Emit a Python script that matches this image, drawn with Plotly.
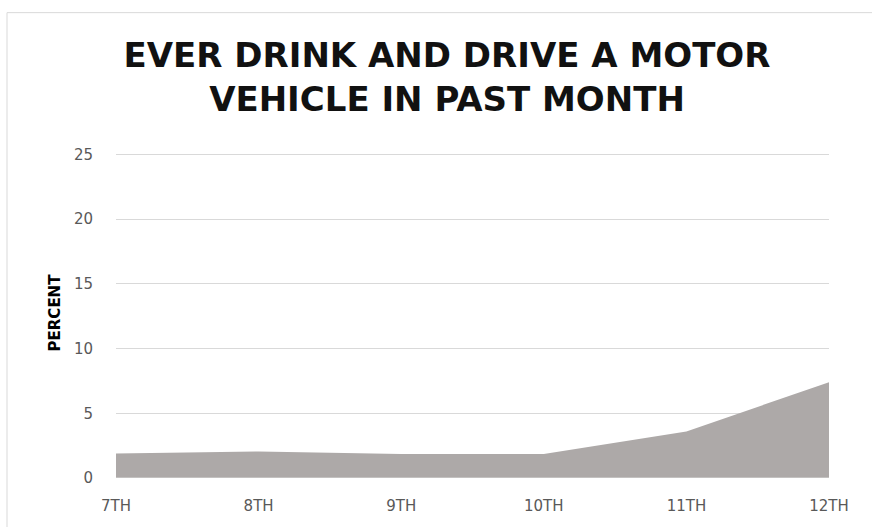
import plotly.graph_objects as go

grades = ["7TH", "8TH", "9TH", "10TH", "11TH", "12TH"]
percent = [1.9, 2.05, 1.85, 1.85, 3.6, 7.4]
y_ticks = [0, 5, 10, 15, 20, 25]

W, H = 872, 527
YMAX = 25.5
L, R, B = 116, 43, 45
ph = 327 / 25 * YMAX
T = round(H - B - ph)
pw, ph = W - L - R, H - T - B

fig = go.Figure()
fig.add_trace(go.Scatter(
    x=list(range(len(grades))), y=percent, mode="lines",
    line=dict(width=0, color="#ada9a8"), fill="tozeroy", fillcolor="#ada9a8",
    hoverinfo="skip", showlegend=False,
))

FONT = "DejaVu Sans"
fig.update_layout(
    width=W, height=H,
    margin=dict(l=L, r=R, t=T, b=B),
    paper_bgcolor="white", plot_bgcolor="white",
    font=dict(family=FONT, color="#595959"),
    title=dict(
        text="EVER DRINK AND DRIVE A MOTOR<br>VEHICLE IN PAST MONTH",
        x=447 / W, xref="container", xanchor="center",
        y=1 - 67 / H, yanchor="top",
        font=dict(family=FONT, size=34, color="#111111", weight="bold"),
    ),
    xaxis=dict(
        range=[0, 5], tickmode="array", tickvals=list(range(len(grades))),
        ticktext=grades, showgrid=False, zeroline=False, showline=False,
        tickfont=dict(size=15, color="#595959"), ticklabelstandoff=17,
        fixedrange=True,
    ),
    yaxis=dict(
        range=[0, YMAX], tickmode="array", tickvals=y_ticks,
        showgrid=True, gridcolor="#d9d9d9", gridwidth=1, zeroline=False,
        showline=False, tickfont=dict(size=15, color="#595959"),
        ticklabelstandoff=22,
        title=dict(text="<b>PERCENT</b>", font=dict(size=15, color="#000000"), standoff=9),
        fixedrange=True,
    ),
    shapes=[
        dict(type="line", xref="paper", yref="paper",
             x0=(7 - L) / pw, x1=(W + 5 - L) / pw,
             y0=(H - B - 11) / ph, y1=(H - B - 11) / ph,
             line=dict(color="#d9d9d9", width=1)),
        dict(type="line", xref="paper", yref="paper",
             x0=(7 - L) / pw, x1=(7 - L) / pw,
             y0=(H - B - 11) / ph, y1=-(B + 5) / ph,
             line=dict(color="#d9d9d9", width=1)),
    ],
)
fig.add_shape(type="line", xref="paper", yref="y", x0=0, x1=1, y0=0, y1=0,
              line=dict(color="#d9d9d9", width=1), layer="above")

fig.write_html("out.html", config={"displayModeBar": False},
               post_script="document.body.style.margin='0';")
